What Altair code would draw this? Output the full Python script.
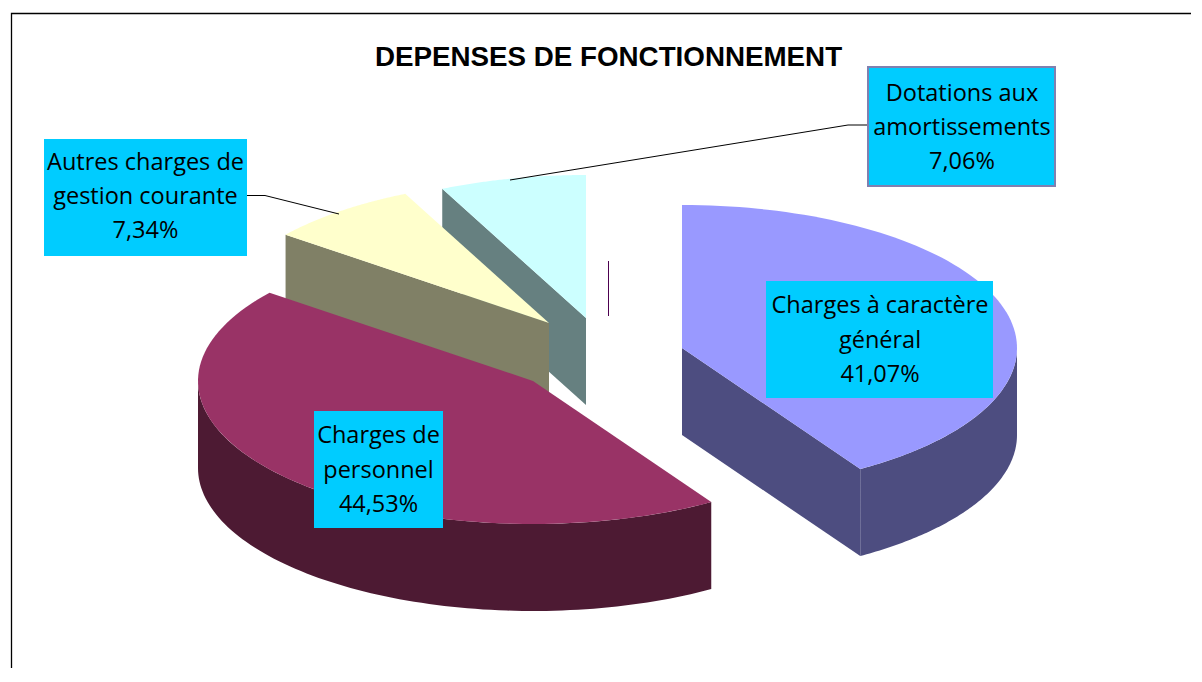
import math
import altair as alt
import pandas as pd

# --- chart values ---
labels = [["Charges à caractère", "général"], ["Charges de", "personnel"],
          ["Autres charges de", "gestion courante"], ["Dotations aux", "amortissements"]]
shares = [41.07, 44.53, 7.34, 7.06]
share_text = ["41,07%", "44,53%", "7,34%", "7,06%"]
top_colors = ["#9999FF", "#993366", "#FFFFCC", "#CCFFFF"]
side_colors = ["#4D4D80", "#4D1A33", "#808066", "#668080"]
title = "DEPENSES DE FONCTIONNEMENT"

# --- layout ---
W, H = 1180, 660
X0 = 11
RX, RY, DEPTH = 335, 143, 87
apex = [(682, 348), (533, 381), (549, 323), (586, 318)]
boxes = [(766, 281, 993, 398), (314, 411, 443, 528), (44, 139, 247, 256), (868, 67, 1055, 186)]
text_x = [880, 378.5, 145.5, 962]
text_y = [(306, 341, 375), (436, 471, 505), (163, 197, 231), (94, 128, 162)]

xs = alt.X("x:Q", scale=alt.Scale(domain=[X0, X0 + W], nice=False, zero=False), axis=None)
ys = alt.Y("y:Q", scale=alt.Scale(domain=[8, 8 + H], reverse=True, nice=False, zero=False), axis=None)
x2 = alt.X2("x2:Q")
y2 = alt.Y2("y2:Q")


def rim(c, a0, a1, steps=90):
    out = []
    for k in range(steps + 1):
        a = math.radians(a0 + (a1 - a0) * k / steps)
        out.append((c[0] + RX * math.sin(a), c[1] - RY * math.cos(a)))
    return out


def down(points):
    return [(x, y + DEPTH) for x, y in points]


edges = [0]
for s in shares:
    edges.append(edges[-1] + s * 360 / sum(shares))
a0 = edges[:-1]
a1 = edges[1:]

polys = []


def add(points, colour):
    pid = len(polys)
    polys.append(pid)
    return [dict(pid=pid, i=i, x=p[0], y=p[1], fill=colour) for i, p in enumerate(points + points[:1])]


def cut(i, angle):
    edge = [apex[i], rim(apex[i], angle, angle, 1)[0]]
    return edge + down(edge)[::-1]


rows = []
# back-to-front drawing order
rows += add(cut(3, a0[3]), side_colors[3])
rows += add([apex[3]] + rim(apex[3], a0[3], a1[3]), top_colors[3])
rows += add(cut(2, a0[2]), side_colors[2])
rows += add([apex[2]] + rim(apex[2], a0[2], a1[2]), top_colors[2])
rows += add(cut(0, a1[0]), side_colors[0])
r = rim(apex[0], 90, a1[0])
rows += add(r + down(r)[::-1], side_colors[0])
rows += add([apex[0]] + rim(apex[0], a0[0], a1[0]), top_colors[0])
r = rim(apex[1], a0[1], 270)
rows += add(r + down(r)[::-1], side_colors[1])
rows += add([apex[1]] + rim(apex[1], a0[1], a1[1]), top_colors[1])

pie = alt.Chart(pd.DataFrame(rows)).mark_line(strokeWidth=0, interpolate="linear").encode(
    x=xs, y=ys,
    fill=alt.Fill("fill:N", scale=None),
    detail="pid:N",
    order="i:Q",
)

frame = alt.Chart(pd.DataFrame([dict(l=0, x=X0 + 0.5, y=8 + H), dict(l=1, x=X0 + 0.5, y=13.5), dict(l=2, x=X0 + W, y=13.5)])).mark_line(
    color="#000000", strokeWidth=1.3).encode(x=xs, y=ys, order="l:Q")

leaders_df = pd.DataFrame([
    dict(g="a", i=0, x=247, y=195.5), dict(g="a", i=1, x=265, y=195.5), dict(g="a", i=2, x=339, y=214),
    dict(g="b", i=0, x=510, y=180), dict(g="b", i=1, x=848, y=125), dict(g="b", i=2, x=868, y=125),
])
leaders = alt.Chart(leaders_df).mark_line(color="#000000", strokeWidth=1).encode(
    x=xs, y=ys, detail="g:N", order="i:Q")

tick = alt.Chart(pd.DataFrame([dict(x=608.5, y=261, y2=316)])).mark_rule(
    color="#4D0050", strokeWidth=1).encode(x=xs, y=ys, y2=y2)

box_df = pd.DataFrame([dict(x=b[0], y=b[1], x2=b[2], y2=b[3], n=i) for i, b in enumerate(boxes)])
box_layer = alt.Chart(box_df).mark_rect(color="#00CCFF").encode(x=xs, y=ys, x2=x2, y2=y2)
outlined = alt.Chart(box_df[box_df.n == 3]).mark_rect(
    fill="#00CCFF", stroke="#8080B0", strokeWidth=2).encode(x=xs, y=ys, x2=x2, y2=y2)

text_rows = []
for i in range(4):
    lines = labels[i] + [share_text[i]]
    for j, t in enumerate(lines):
        text_rows.append(dict(t=t, x=text_x[i], y=text_y[i][j]))
texts = alt.Chart(pd.DataFrame(text_rows)).mark_text(
    font="Open Sans", fontSize=23.5, color="#000000", align="center", baseline="middle").encode(
    x=xs, y=ys, text="t:N")

heading = alt.Chart(pd.DataFrame([dict(t=title, x=608.5, y=57.5)])).mark_text(
    font="Liberation Sans", fontWeight="bold", fontSize=27.75, color="#000000",
    align="center", baseline="middle").encode(x=xs, y=ys, text="t:N")

chart = alt.layer(frame, pie, tick, leaders, box_layer, outlined, texts, heading).properties(
    width=W, height=H, padding=0
).configure_view(stroke=None)

chart.save("out.html", embed_options={"renderer": "svg", "actions": False})
